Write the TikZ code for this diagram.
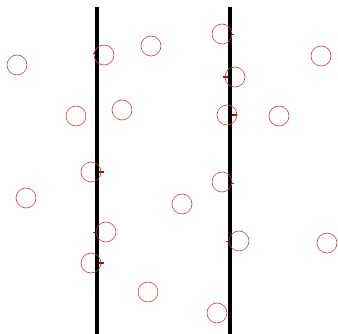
\documentclass[tikz,border=0pt]{standalone}
\usepackage{tikz}
\definecolor{molred}{RGB}{185,70,70}
\tikzset{
  molecule/.style={draw=molred, circle, minimum size=20pt, inner sep=0pt, line width=0.6pt},
  wall/.style={line width=4pt, black},
  kick/.style={red!85!black, line width=1.6pt},
  touch/.style={black!70, line width=0.6pt},
}

\begin{document}
\begin{tikzpicture}[x=1pt, y=-1pt]
  \useasboundingbox (0,0) rectangle (338,334);

  % Walls
  \coordinate (lwtop) at (97,7);
  \coordinate (lwbot) at (97,334);
  \coordinate (rwtop) at (230,7);
  \coordinate (rwbot) at (230,334);
  \draw[wall] (lwtop) -- (lwbot);
  \draw[wall] (rwtop) -- (rwbot);

  % Molecules
  \node[molecule] (m1)  at (17,65)   {};
  \node[molecule] (m2)  at (104,55)  {};
  \node[molecule] (m3)  at (151,46)  {};
  \node[molecule] (m4)  at (76,116)  {};
  \node[molecule] (m5)  at (122,110) {};
  \node[molecule] (m6)  at (91,172)  {};
  \node[molecule] (m7)  at (26,198)  {};
  \node[molecule] (m8)  at (106,232) {};
  \node[molecule] (m9)  at (91,263)  {};
  \node[molecule] (m10) at (148,292) {};
  \node[molecule] (m11) at (222,34)  {};
  \node[molecule] (m12) at (235,77)  {};
  \node[molecule] (m13) at (227,115) {};
  \node[molecule] (m14) at (321,56)  {};
  \node[molecule] (m15) at (279,116) {};
  \node[molecule] (m16) at (222,182) {};
  \node[molecule] (m17) at (182,204) {};
  \node[molecule] (m18) at (239,241) {};
  \node[molecule] (m19) at (327,243) {};
  \node[molecule] (m20) at (217,313) {};

  % Wall contacts
  \draw[kick] (99,172) -- (104,172);
  \draw[kick] (99,263) -- (104,263);
  \draw[kick] (223,77) -- (228,77);
  \draw[kick] (232,115) -- (237,115);
  \draw[touch] (93,53) -- (95,53);
  \draw[touch] (93,232) -- (95,232);
  \draw[touch] (232,34) -- (234,34);
  \draw[touch] (232,183) -- (234,183);
  \draw[touch] (226,241) -- (228,241);
\end{tikzpicture}
\end{document}
